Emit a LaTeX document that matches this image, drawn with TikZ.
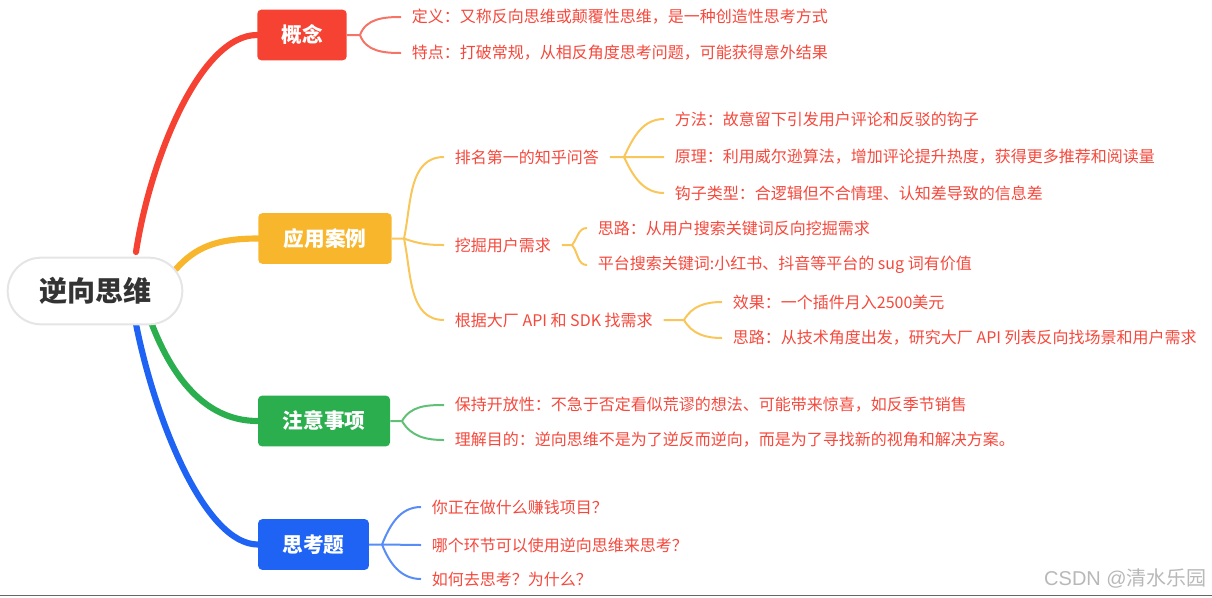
\documentclass[tikz,border=0pt]{standalone}
\usepackage{fontspec}
\setmainfont{Noto Sans CJK SC}
\newfontfamily\latinwm{Liberation Sans}
\usetikzlibrary{backgrounds}
\definecolor{cred}{RGB}{245,66,50}
\definecolor{cora}{RGB}{248,182,45}
\definecolor{cgrn}{RGB}{43,174,78}
\definecolor{cblu}{RGB}{31,99,245}
\definecolor{lred}{RGB}{244,116,104}
\definecolor{lora}{RGB}{249,198,90}
\definecolor{lgrn}{RGB}{96,192,120}
\definecolor{lblu}{RGB}{88,140,246}
\definecolor{txt}{RGB}{245,72,60}
\begin{document}
\begin{tikzpicture}[x=0.75pt,y=-0.75pt,
 rootbox/.style={draw=black!10, line width=1.5pt, fill=white, rounded corners=25pt, minimum width=131pt, minimum height=50pt, font=\fontsize{21}{25}\selectfont\bfseries, text=black!80},
 topic/.style={fill=#1, rounded corners=3pt, text=white, font=\fontsize{15.5}{19}\selectfont\bfseries, minimum height=38pt},
 leaf/.style={anchor=west, inner xsep=8pt, inner ysep=2pt, text=txt, font=\fontsize{12}{14}\selectfont},
 mainline/.style={line width=4.6pt, line cap=round, draw=#1},
 subline/.style={line width=1.5pt, draw=#1},
]
\useasboundingbox (0,0) rectangle (1212,597);

% root and topics
\node[rootbox] (root) at (95,291) {逆向思维};
\node[topic=cred, minimum width=67pt] (c1) at (302,35) {概念};
\node[topic=cora, minimum width=100pt] (c2) at (325,238.5) {应用案例};
\node[topic=cgrn, minimum width=99pt] (c3) at (324,421) {注意事项};
\node[topic=cblu, minimum width=83pt] (c4) at (313.5,544.5) {思考题};

% main connector start points
\coordinate (s1) at (136,252);
\coordinate (s2) at (176,269);
\coordinate (s3) at (151,322);
\coordinate (s4) at (136,324);

\begin{scope}[on background layer]
\draw[mainline=cred] (s1) .. controls (150,160) and (200,35) .. (c1.west);
\draw[mainline=cora] (s2) .. controls (195,248) and (215,238.5) .. (c2.west);
\draw[mainline=cgrn] (s3) .. controls (175,385) and (210,421) .. (c3.west);
\draw[mainline=cblu] (s4) .. controls (155,420) and (205,544.5) .. (c4.west);
\end{scope}

% 概念
\node[leaf] (l11) at (401,17) {定义：又称反向思维或颠覆性思维，是一种创造性思考方式};
\node[leaf] (l12) at (401,53) {特点：打破常规，从相反角度思考问题，可能获得意外结果};
\coordinate (f1) at (360,35);
\draw[subline=lred] (c1.east) -- (f1) to[out=70,in=180] (l11.west) (f1) to[out=-70,in=180] (l12.west);

% 应用案例
\node[leaf] (m1) at (444,157) {排名第一的知乎问答};
\node[leaf] (m2) at (444,245) {挖掘用户需求};
\node[leaf] (m3) at (444,320) {根据大厂 API 和 SDK 找需求};
\coordinate (f2) at (404,238.5);
\draw[subline=lora] (c2.east) -- (f2) to[out=78,in=180] (m1.west) (f2) to[out=-20,in=180] (m2.west) (f2) to[out=-78,in=180] (m3.west);

\node[leaf] (a1) at (664,119) {方法：故意留下引发用户评论和反驳的钩子};
\node[leaf] (a2) at (664,157) {原理：利用威尔逊算法，增加评论提升热度，获得更多推荐和阅读量};
\node[leaf] (a3) at (664,193) {钩子类型：合逻辑但不合情理、认知差导致的信息差};
\coordinate (fa) at (624,157);
\draw[subline=lora] (m1.east) -- (fa) to[out=65,in=180] (a1.west) (fa) -- (a2.west) (fa) to[out=-65,in=180] (a3.west);

\node[leaf] (b1) at (587,228) {思路：从用户搜索关键词反向挖掘需求};
\node[leaf] (b2) at (587,265) {平台搜索关键词:小红书、抖音等平台的 sug 词有价值};
\coordinate (fb) at (572,245);
\draw[subline=lora] (m2.east) -- (fb) to[out=50,in=180] (b1.west) (fb) to[out=-50,in=180] (b2.west);

\node[leaf] (d1) at (722,302) {效果：一个插件月入2500美元};
\node[leaf] (d2) at (722,338) {思路：从技术角度出发，研究大厂 API 列表反向找场景和用户需求};
\coordinate (fd) at (684,320);
\draw[subline=lora] (m3.east) -- (fd) to[out=60,in=180] (d1.west) (fd) to[out=-60,in=180] (d2.west);

% 注意事项
\node[leaf] (g1) at (444,405) {保持开放性：不急于否定看似荒谬的想法、可能带来惊喜，如反季节销售};
\node[leaf] (g2) at (444,440) {理解目的：逆向思维不是为了逆反而逆向，而是为了寻找新的视角和解决方案。};
\coordinate (fg) at (402,421);
\draw[subline=lgrn] (c3.east) -- (fg) to[out=60,in=180] (g1.west) (fg) to[out=-60,in=180] (g2.west);

% 思考题
\node[leaf] (q1) at (421,507) {你正在做什么赚钱项目？};
\node[leaf] (q2) at (421,545) {哪个环节可以使用逆向思维来思考？};
\node[leaf] (q3) at (421,579) {如何去思考？为什么？};
\coordinate (fq) at (382,544.5);
\draw[subline=lblu] (c4.east) -- (fq) to[out=68,in=180] (q1.west) (fq) -- (q2.west) (fq) to[out=-68,in=180] (q3.west);

% watermark and bottom rule
\node[anchor=east, inner sep=0pt, text=black!28, font=\fontsize{15}{17}\selectfont] (wm) at (1207,578) {{\latinwm CSDN @}清水乐园};
\coordinate (bl) at (0,595.5);
\coordinate (br) at (1212,595.5);
\draw[black!60, line width=1pt] (bl) -- (br);
\end{tikzpicture}
\end{document}
